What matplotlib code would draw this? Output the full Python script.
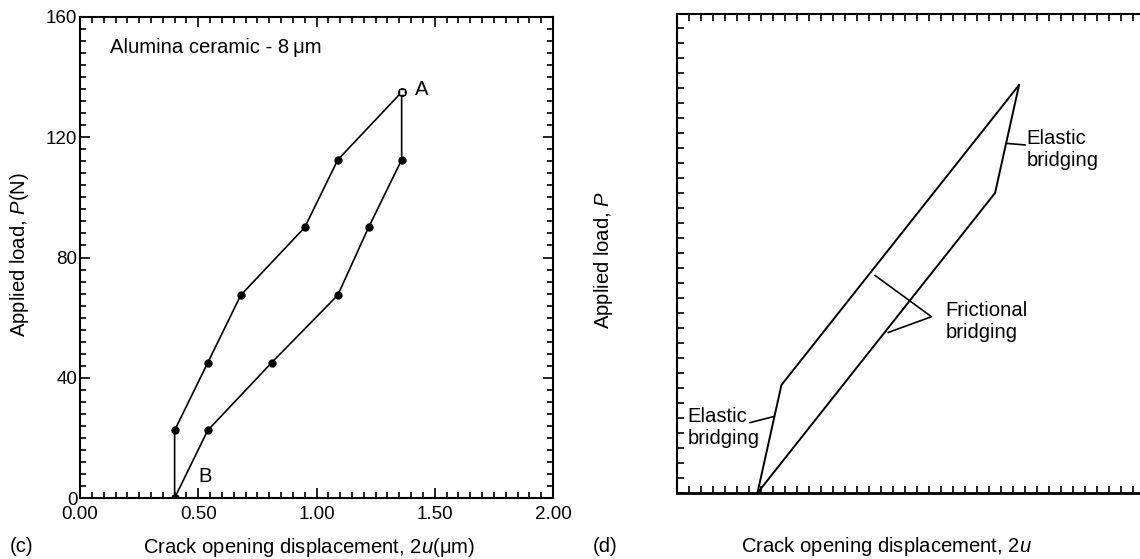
import matplotlib.pyplot as plt
from matplotlib.ticker import MultipleLocator, NullFormatter

plt.rcParams['font.family'] = ['Liberation Sans', 'DejaVu Sans']
plt.rcParams['mathtext.fontset'] = 'custom'
plt.rcParams['mathtext.rm'] = 'Liberation Sans'
plt.rcParams['mathtext.it'] = 'Liberation Sans:italic'
plt.rcParams['font.size'] = 14.6
plt.rcParams['xtick.labelsize'] = 13.5
plt.rcParams['ytick.labelsize'] = 13.5

# (c) measured loop, alumina ceramic
load_u = [0.40, 0.40, 0.54, 0.68, 0.95, 1.09, 1.36]
load_p = [0.0, 22.5, 45.0, 67.5, 90.0, 112.5, 135.0]
unload_u = [1.36, 1.36, 1.22, 1.09, 0.81, 0.54, 0.40]
unload_p = [135.0, 112.5, 90.0, 67.5, 45.0, 22.5, 0.0]
c_xticks = [0.0, 0.5, 1.0, 1.5, 2.0]
c_xticklabels = ['0.00', '0.50', '1.00', '1.50', '2.00']
c_yticks = [0, 40, 80, 120, 160]

# (d) schematic loop, arbitrary units
sch_load_u = [6.7, 8.7, 28.5]
sch_load_p = [0.0, 7.2, 27.2]
sch_unload_u = [28.5, 26.5, 6.7]
sch_unload_p = [27.2, 20.0, 0.0]

fig = plt.figure(figsize=(11.4, 5.59), dpi=100)
ax_c = fig.add_axes([0.0702, 0.1091, 0.4149, 0.8605])
ax_d = fig.add_axes([0.5939, 0.1181, 0.4053, 0.8569])

for ax in (ax_c, ax_d):
    for s in ax.spines.values():
        s.set_linewidth(1.5)
    ax.tick_params(which='both', direction='in', top=True, right=True, width=1.2)
    ax.tick_params(which='major', length=7)
    ax.tick_params(which='minor', length=4)

# ---- panel (c)
ax_c.plot(load_u, load_p, color='black', lw=1.2, marker='o', ms=5)
ax_c.plot(unload_u, unload_p, color='black', lw=1.2, marker='o', ms=5)
ax_c.plot(load_u[-1], load_p[-1], marker='s', ms=4, mfc='white', mec='black')
ax_c.set_xlim(0, 2)
ax_c.set_ylim(0, 160)
ax_c.set_xticks(c_xticks)
ax_c.set_xticklabels(c_xticklabels)
ax_c.set_yticks(c_yticks)
ax_c.xaxis.set_minor_locator(MultipleLocator(0.05))
ax_c.yaxis.set_minor_locator(MultipleLocator(4))
ax_c.tick_params(axis='x', pad=6)
ax_c.tick_params(axis='y', pad=2)

ax_c.text(0.127, 150, 'Alumina ceramic - 8\u2009μm', va='center', ha='left')
ax_c.text(1.445, 136, 'A', va='center', ha='center')
ax_c.text(0.529, 7.1, 'B', va='center', ha='center')

ax_c.set_xlabel('Crack opening displacement, 2$u$(μm)', va='center', ha='center')
ax_c.xaxis.set_label_coords(0.484, -0.102)
ax_c.set_ylabel('Applied load, $P$(N)', va='center', ha='center')
ax_c.yaxis.set_label_coords(-0.127, 0.507)
fig.text(0.0193, 0.0215, '(c)', va='center', ha='center')

# ---- panel (d)
ax_d.plot(sch_load_u, sch_load_p, color='black', lw=1.4)
ax_d.plot(sch_unload_u, sch_unload_p, color='black', lw=1.4)
ax_d.set_xlim(0, 38.5)
ax_d.set_ylim(0, 31.93)
ax_d.xaxis.set_major_locator(MultipleLocator(1))
ax_d.yaxis.set_major_locator(MultipleLocator(1))
ax_d.xaxis.set_major_formatter(NullFormatter())
ax_d.yaxis.set_major_formatter(NullFormatter())
ax_d.tick_params(which='major', length=5)
ax_d.tick_params(axis='y', which='major', right=False)
ax_d.spines['right'].set_visible(False)
ax_d.spines['bottom'].set_linewidth(2.0)

# leader lines for the bridging labels
ax_d.plot([27.5, 29.0], [23.3, 23.2], color='black', lw=1.2)
ax_d.text(29.1, 22.9, 'Elastic\nbridging', va='center', ha='left')
ax_d.plot([16.5, 21.2, 17.6], [14.5, 11.75, 10.7], color='black', lw=1.2)
ax_d.text(22.4, 11.4, 'Frictional\nbridging', va='center', ha='left')
ax_d.plot([6.08, 8.03], [4.69, 5.09], color='black', lw=1.2)
ax_d.text(0.9, 4.37, 'Elastic\nbridging', va='center', ha='left')

ax_d.set_xlabel('Crack opening displacement, 2$u$', va='center', ha='center')
ax_d.xaxis.set_label_coords(0.453, -0.112)
ax_d.set_ylabel('Applied load, $P$', va='center', ha='center')
ax_d.yaxis.set_label_coords(-0.16, 0.486)
fig.text(605 / 1140, 1 - 546.7 / 559, '(d)', va='center', ha='center')

fig.savefig('out.png', dpi=100)
